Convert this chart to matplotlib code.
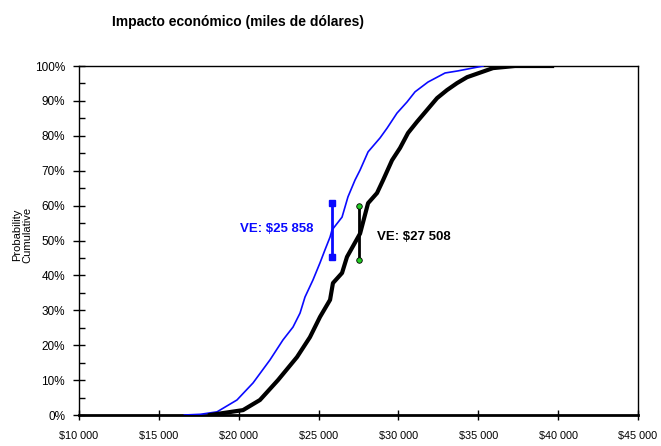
import matplotlib.pyplot as plt
from matplotlib.ticker import FuncFormatter, MultipleLocator

plt.rcParams['font.family'] = ['Liberation Sans', 'DejaVu Sans']

# Cumulative probability curves (x in thousands of dollars, y in %)
blue_x = [16.6, 17.6, 18.64, 19.89, 20.90, 21.96, 22.77, 23.40, 23.84, 24.15, 24.65,
          25.09, 25.40, 25.72, 25.84, 26.47, 26.84, 27.28, 27.60, 28.10, 28.85,
          29.29, 29.91, 30.54, 31.04, 31.85, 32.92, 33.73, 35.30]
blue_y = [0, 0.2, 0.9, 4.3, 9.2, 15.8, 21.5, 25.2, 29.2, 33.8, 38.7,
          43.6, 47.3, 51, 53, 56.7, 62.5, 67.3, 70.2, 75.4, 79.4,
          82.2, 86.5, 89.7, 92.6, 95.4, 98, 98.6, 100]

black_x = [18.2, 20.27, 21.33, 22.46, 23.65, 24.46, 25.09, 25.72, 25.90, 26.47,
           26.78, 27.60, 28.10, 28.66, 29.04, 29.60, 30.10, 30.60, 31.16, 31.79,
           32.42, 33.04, 33.67, 34.30, 35.92, 37.30, 39.62]
black_y = [0, 1.4, 4.3, 10, 16.6, 22.3, 28.1, 33, 37.8, 40.7,
           45.3, 52, 60.7, 63.6, 67.3, 73, 76.5, 80.8, 84, 87.4,
           90.8, 93.1, 95.1, 96.8, 99.4, 100, 100]

# expected value markers
ve_blue = 25.858
ve_blue_range = [45.3, 60.7]
ve_black = 27.508
ve_black_range = [44.4, 60.0]

fig = plt.figure(figsize=(6.61, 4.46), dpi=100)
ax = fig.add_axes([0.1195, 0.0695, 0.8457, 0.7825])

ax.plot(blue_x, blue_y, color='#0a0aff', lw=1.2, zorder=3)
ax.plot(black_x, black_y, color='black', lw=3, zorder=3)

ax.plot([ve_blue, ve_blue], ve_blue_range, color='#0a0aff', lw=2,
        marker='s', ms=4.5, zorder=4)
ax.plot([ve_black, ve_black], ve_black_range, color='black', lw=2,
        marker='o', ms=4, mfc='#22cc22', mec='black', mew=0.6, zorder=4)

ax.text(ve_blue - 1.2, 53.3, 'VE: $25 858', color='#0a0aff', fontsize=9.5,
        fontweight='bold', ha='right', va='center')
ax.text(ve_black + 1.15, 51, 'VE: $27 508', color='black', fontsize=9.5,
        fontweight='bold', ha='left', va='center')

ax.set_xlim(10, 45)
ax.set_ylim(0, 100)
ax.xaxis.set_major_locator(MultipleLocator(5))
ax.yaxis.set_major_locator(MultipleLocator(10))
ax.yaxis.set_minor_locator(MultipleLocator(5))
ax.xaxis.set_major_formatter(FuncFormatter(lambda v, p: '$%d 000' % v))
ax.yaxis.set_major_formatter(FuncFormatter(lambda v, p: '%d%%' % v))
ax.tick_params(axis='x', which='major', direction='inout', length=7,
               width=1, labelsize=7.8, pad=8)
ax.tick_params(axis='y', which='major', direction='inout', length=8,
               width=1, labelsize=8.5, pad=6)
ax.tick_params(axis='y', which='minor', direction='in', length=4, width=1)

for s in ax.spines.values():
    s.set_linewidth(1)
ax.spines['bottom'].set_linewidth(2)

fig.text(0.034, 0.473, 'Probability\nCumulative', rotation=90, fontsize=8,
         ha='center', va='center', linespacing=1.0)
fig.text(0.36, 0.951, 'Impacto económico (miles de dólares)', fontsize=10,
         fontweight='bold', ha='center', va='center')

fig.savefig('out.png', dpi=100)
